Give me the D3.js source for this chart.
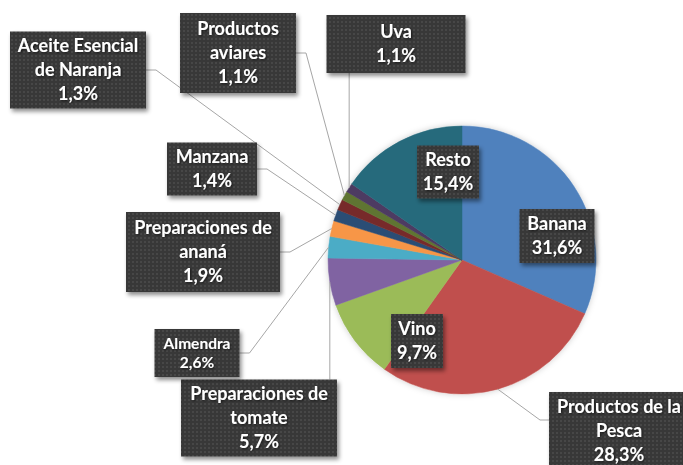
<!DOCTYPE html>
<html>
<head>
<meta charset="utf-8">
<script src="https://cdn.jsdelivr.net/npm/d3@7"></script>
<style>
  body { margin: 0; background: #fff; }
  svg { display: block; }
  .lbl text { font-family: Lato, "Open Sans", sans-serif; font-weight: bold; fill: #fff; }
</style>
</head>
<body>
<div id="chart"></div>
<script>
// data, clockwise from 12 o'clock
var categories = ['Banana', 'Productos de la Pesca', 'Vino', 'Preparaciones de tomate', 'Almendra',
    'Preparaciones de ananá', 'Manzana', 'Aceite Esencial de Naranja', 'Productos aviares', 'Uva', 'Resto'];
var values = [31.6, 28.3, 9.7, 5.7, 2.6, 1.9, 1.4, 1.3, 1.1, 1.1, 15.4];
var valueLabels = ['31,6%', '28,3%', '9,7%', '5,7%', '2,6%', '1,9%', '1,4%', '1,3%', '1,1%', '1,1%', '15,4%'];
var colors = ['#4f81bd', '#c0504d', '#9bbb59', '#8064a2', '#4bacc6', '#f79646',
    '#2c4d75', '#772c2a', '#5f7530', '#4d3b62', '#276a7c'];

// label layout: text lines, box centre, size, font size, line height, leader side
var labelLines = [
    ['Banana'], ['Productos de la', 'Pesca'], ['Vino'], ['Preparaciones de', 'tomate'], ['Almendra'],
    ['Preparaciones de', 'ananá'], ['Manzana'], ['Aceite Esencial', 'de Naranja'], ['Productos', 'aviares'], ['Uva'], ['Resto']
];
var boxes = [
    { cx: 557, cy: 236, w: 75, h: 54, fs: 18, lh: 24, lead: null },
    { cx: 619, cy: 431, w: 140, h: 78, fs: 18, lh: 24, lead: 'left' },
    { cx: 417, cy: 341, w: 52, h: 54, fs: 18, lh: 24, lead: null },
    { cx: 259, cy: 418, w: 156, h: 77, fs: 18, lh: 24, lead: 'top' },
    { cx: 197, cy: 353, w: 85, h: 48, fs: 15.5, lh: 19, lead: 'right' },
    { cx: 203, cy: 252, w: 154, h: 80, fs: 18, lh: 24, lead: 'right' },
    { cx: 212, cy: 169, w: 90, h: 53, fs: 18, lh: 24, lead: 'right' },
    { cx: 78, cy: 70, w: 136, h: 77, fs: 18, lh: 24, lead: 'right' },
    { cx: 238, cy: 53, w: 116, h: 80, fs: 18, lh: 24, lead: 'right' },
    { cx: 396, cy: 44, w: 139, h: 58, fs: 18, lh: 24, lead: 'bottom' },
    { cx: 448, cy: 172, w: 62, h: 53, fs: 18, lh: 24, lead: null }
];

var width = 683, height = 465;
var cx = 462, cy = 260, r = 134;

var svg = d3.select('#chart').append('svg')
    .attr('width', width)
    .attr('height', height);

var defs = svg.append('defs');
var pat = defs.append('pattern')
    .attr('id', 'dots')
    .attr('width', 4).attr('height', 4)
    .attr('patternUnits', 'userSpaceOnUse');
pat.append('rect').attr('width', 4).attr('height', 4).attr('fill', '#383838');
pat.append('rect').attr('x', 1).attr('y', 1).attr('width', 2).attr('height', 2).attr('fill', '#474747');

var shadow = defs.append('filter').attr('id', 'shadow')
    .attr('x', '-20%').attr('y', '-20%').attr('width', '150%').attr('height', '150%');
shadow.append('feDropShadow')
    .attr('dx', 2).attr('dy', 3).attr('stdDeviation', 2)
    .attr('flood-color', '#000').attr('flood-opacity', 0.45);

var txtShadow = defs.append('filter').attr('id', 'txtShadow');
txtShadow.append('feDropShadow')
    .attr('dx', 1).attr('dy', 1).attr('stdDeviation', 0.8)
    .attr('flood-color', '#000').attr('flood-opacity', 0.6);

var pieShadow = defs.append('filter').attr('id', 'pieShadow')
    .attr('x', '-20%').attr('y', '-20%').attr('width', '140%').attr('height', '140%');
pieShadow.append('feDropShadow')
    .attr('dx', 0).attr('dy', 0).attr('stdDeviation', 3)
    .attr('flood-color', '#000').attr('flood-opacity', 0.2);

var pie = d3.pie().sort(null).value(d => d);
var arcs = pie(values);
var arc = d3.arc().innerRadius(0).outerRadius(r);

var g = svg.append('g').attr('transform', `translate(${cx},${cy})`);
g.append('g').attr('filter', 'url(#pieShadow)')
    .selectAll('path')
    .data(arcs)
    .enter().append('path')
    .attr('d', arc)
    .attr('fill', (d, i) => colors[i])
    .attr('stroke', (d, i) => colors[i])
    .attr('stroke-width', 0.5);

// leader lines
function edgePoint(d) {
    var a = (d.startAngle + d.endAngle) / 2;
    return [cx + r * Math.sin(a), cy - r * Math.cos(a)];
}
var leaders = svg.append('g')
    .attr('fill', 'none')
    .attr('stroke', '#a6a6a6')
    .attr('stroke-width', 1);
arcs.forEach(function(d, i) {
    var b = boxes[i];
    if (!b.lead) return;
    var p = edgePoint(d), pts;
    if (b.lead === 'right') {
        var x0 = b.cx + b.w / 2;
        pts = [[x0, b.cy], [x0 + 10, b.cy], p];
    } else if (b.lead === 'left') {
        var x1 = b.cx - b.w / 2;
        pts = [[x1, b.cy - 11], [x1 - 9, b.cy - 11], p];
    } else if (b.lead === 'bottom') {
        pts = [[p[0], b.cy + b.h / 2], p];
    } else if (b.lead === 'top') {
        pts = [[p[0], b.cy - b.h / 2], p];
    }
    leaders.append('path').attr('d', d3.line()(pts));
});

// label boxes
var lbl = svg.append('g').selectAll('g')
    .data(arcs)
    .enter().append('g')
    .attr('class', 'lbl')
    .attr('transform', (d, i) => `translate(${boxes[i].cx},${boxes[i].cy})`);

lbl.append('rect')
    .attr('x', (d, i) => -boxes[i].w / 2)
    .attr('y', (d, i) => -boxes[i].h / 2)
    .attr('width', (d, i) => boxes[i].w)
    .attr('height', (d, i) => boxes[i].h)
    .attr('fill', 'url(#dots)')
    .attr('filter', 'url(#shadow)');

lbl.each(function(d, i) {
    var b = boxes[i];
    var lines = labelLines[i].concat([valueLabels[i]]);
    var t = d3.select(this).append('text')
        .attr('text-anchor', 'middle')
        .attr('filter', 'url(#txtShadow)')
        .style('font-size', b.fs + 'px');
    lines.forEach(function(s, k) {
        t.append('tspan')
            .attr('x', 0)
            .attr('y', (k - (lines.length - 1) / 2) * b.lh)
            .attr('dy', '0.36em')
            .text(s);
    });
});
</script>
</body>
</html>
